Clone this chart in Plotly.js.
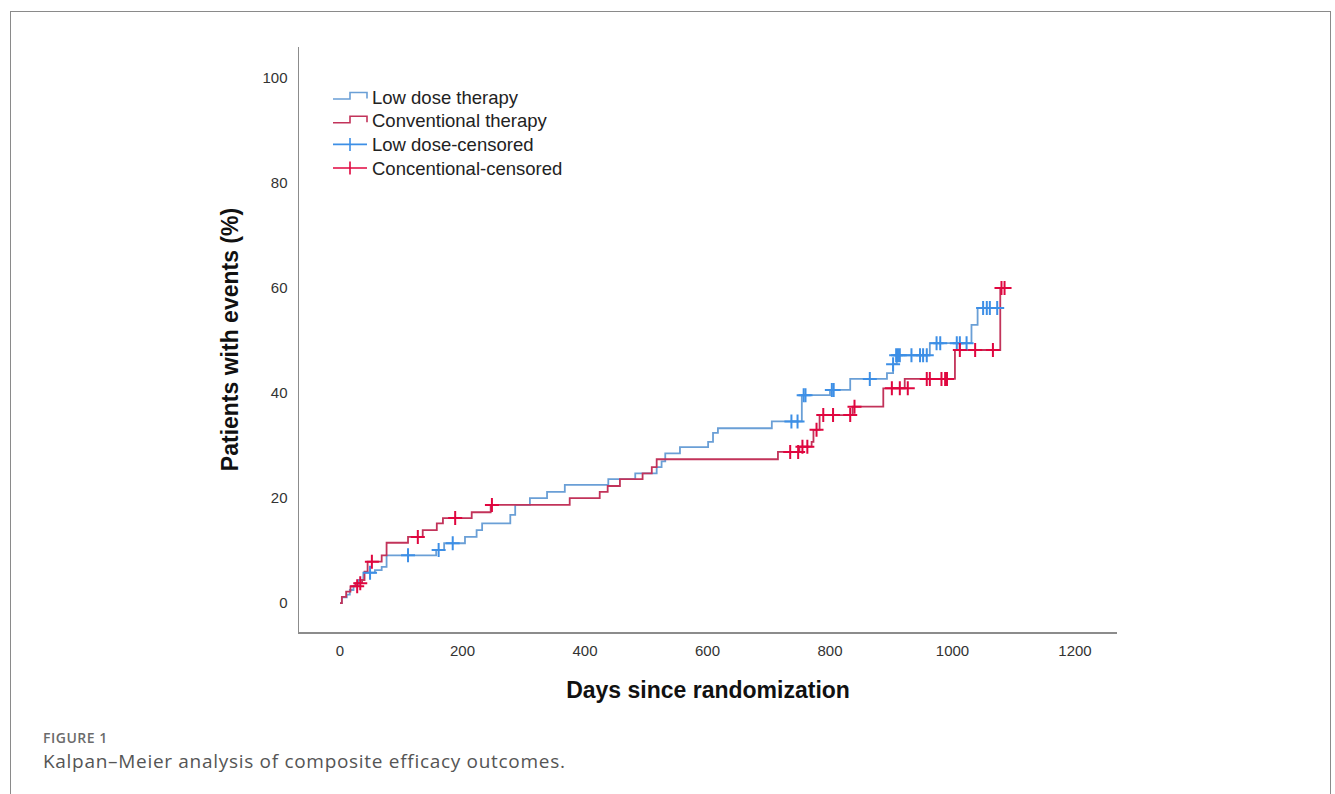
<!DOCTYPE html>
<html>
<head>
<meta charset="utf-8">
<script src="https://cdn.plot.ly/plotly-3.0.1.min.js"></script>
<style>
  html, body { margin: 0; padding: 0; background: #ffffff; }
  #frame { position: absolute; left: 10px; top: 11px; width: 1321px; height: 800px;
           border: 1.5px solid #8a8a8a; border-bottom: none; box-sizing: border-box; }
  #chart { position: absolute; left: 0; top: 0; width: 1335px; height: 794px; }
  .cap1 { position: absolute; left: 43px; top: 729px; font-family: 'Open Sans', sans-serif;
          font-size: 14px; font-weight: 600; color: #6b6b6b; letter-spacing: 0.5px; line-height: 18px; white-space: nowrap; }
  .cap2 { position: absolute; left: 43px; top: 748px; font-family: 'Open Sans', sans-serif;
          font-size: 19px; font-weight: 400; color: #555555; letter-spacing: 0.7px; line-height: 26px; white-space: nowrap; }
</style>
</head>
<body>
<div id="frame"></div>
<div id="chart"></div>
<div class="cap1">FIGURE 1</div>
<div class="cap2">Kalpan–Meier analysis of composite efficacy outcomes.</div>
<script>
// ---- data (days since randomization, % with events) ----
const lowDoseDays = [0, 3, 11, 16, 22, 30, 38, 57, 68, 76, 157, 170, 204, 223, 232, 278, 286, 310, 338, 367,
  438, 482, 517, 525, 531, 555, 601, 609, 617, 705, 754, 800, 833, 893, 903, 909, 963, 1031, 1041, 1078];
const lowDoseValues = [0, 1.1, 1.6, 2.5, 3.3, 4.4, 5.8, 6.3, 6.9, 9.1, 10.1, 11.4, 12.6, 13.9, 15.2, 16.8, 18.7, 20.0, 21.2, 22.5,
  23.6, 24.7, 25.9, 27.0, 28.5, 29.7, 30.7, 32.4, 33.3, 34.6, 39.6, 40.6, 42.7, 43.8, 45.5, 47.2, 49.5, 53.0, 56.2, 56.2];

const convDays = [0, 3, 10, 17, 25, 36, 40, 45, 68, 76, 111, 135, 158, 168, 215, 246, 375, 424, 437, 457,
  494, 509, 517, 715, 750, 770, 773, 783, 837, 887, 922, 1004, 1078, 1088];
const convValues = [0, 1.2, 2.2, 3.2, 3.8, 4.4, 6.0, 7.9, 9.1, 11.5, 12.6, 13.9, 15.2, 16.2, 17.3, 18.7, 20.0, 21.2, 22.3, 23.6,
  24.7, 25.9, 27.4, 28.8, 29.8, 30.7, 33.0, 35.8, 37.4, 40.9, 42.7, 48.2, 60.0, 60.0];

const lowCensorDays = [49, 111, 161, 184, 737, 747, 757, 760, 803, 806, 865, 903, 908, 911, 914, 933, 947, 952, 958,
  974, 980, 1007, 1012, 1023, 1050, 1056, 1061, 1073];
const lowCensorValues = [5.8, 9.1, 10.1, 11.4, 34.6, 34.6, 39.6, 39.6, 40.6, 40.6, 42.7, 45.5, 47.2, 47.2, 47.2, 47.2, 47.2, 47.2, 47.2,
  49.5, 49.5, 49.5, 49.5, 49.5, 56.2, 56.2, 56.2, 56.2];

const convCensorDays = [28, 33, 52, 127, 188, 248, 735, 748, 755, 763, 778, 789, 805, 833, 840, 901, 914, 927,
  958, 963, 982, 988, 991, 1012, 1037, 1066, 1080, 1085];
const convCensorValues = [3.2, 3.8, 7.9, 12.6, 16.2, 18.7, 28.8, 28.8, 29.8, 29.8, 33.0, 35.8, 35.8, 35.8, 37.4, 40.9, 40.9, 40.9,
  42.7, 42.7, 42.7, 42.7, 42.7, 48.2, 48.2, 48.2, 60.0, 60.0];

const xTicks = [0, 200, 400, 600, 800, 1000, 1200];
const yTicks = [0, 20, 40, 60, 80, 100];

const seriesNames = ['Low dose therapy', 'Conventional therapy', 'Low dose-censored', 'Concentional-censored'];
// --------------------------------------------------------------------------------

const blueLine = '#6a9fd6';
const redLine = '#c2335a';
const blueMark = '#3d8fe6';
const redMark = '#e0063f';
const colors = [blueLine, redLine, blueMark, redMark];

const traces = [
  { x: lowDoseDays, y: lowDoseValues, type: 'scatter', mode: 'lines', name: seriesNames[0],
    line: { shape: 'hv', color: blueLine, width: 1.8 } },
  { x: convDays, y: convValues, type: 'scatter', mode: 'lines', name: seriesNames[1],
    line: { shape: 'hv', color: redLine, width: 1.8 } },
  { x: lowCensorDays, y: lowCensorValues, type: 'scatter', mode: 'markers', name: seriesNames[2],
    marker: { symbol: 'cross-thin-open', size: 10, color: blueMark, line: { color: blueMark, width: 2 } } },
  { x: convCensorDays, y: convCensorValues, type: 'scatter', mode: 'markers', name: seriesNames[3],
    marker: { symbol: 'cross-thin-open', size: 10, color: redMark, line: { color: redMark, width: 2 } } }
];

// plot area in pixels (for placing the legend drawn in paper coordinates)
const M = { l: 299, r: 218, t: 47, b: 162 };
const W = 1335, H = 794;
const PW = W - M.l - M.r, PH = H - M.t - M.b;
const px = v => (v - M.l) / PW;
const py = v => (H - M.b - v) / PH;

// custom legend (step icons like the original)
const legendRows = [97, 120.7, 144.4, 168];
const legendShapes = [];
const legendAnn = [];
legendRows.forEach((c, i) => {
  let path;
  if (i < 2) {
    path = `M ${px(333)},${py(c + 2)} L ${px(350)},${py(c + 2)} L ${px(350)},${py(c - 4.5)} L ${px(367)},${py(c - 4.5)} L ${px(367)},${py(c + 1.5)}`;
    legendShapes.push({ type: 'path', xref: 'paper', yref: 'paper', path: path,
      line: { color: colors[i], width: 1.6 } });
  } else {
    legendShapes.push({ type: 'line', xref: 'paper', yref: 'paper',
      x0: px(333), x1: px(367), y0: py(c), y1: py(c), line: { color: colors[i], width: 1.6 } });
    legendShapes.push({ type: 'line', xref: 'paper', yref: 'paper',
      x0: px(350), x1: px(350), y0: py(c - 6.5), y1: py(c + 6.5), line: { color: colors[i], width: 1.6 } });
  }
  legendAnn.push({ xref: 'paper', yref: 'paper', x: px(370), y: py(c), xanchor: 'left', yanchor: 'middle',
    showarrow: false, text: seriesNames[i],
    font: { family: 'Liberation Sans, Arial, sans-serif', size: 18.5, color: '#222222' } });
});

const axisFont = { family: 'Liberation Sans, Arial, sans-serif', size: 15, color: '#333333' };
const titleFont = { family: 'Liberation Sans, Arial, sans-serif', size: 23, color: '#111111', weight: 'bold' };

const layout = {
  width: W, height: H,
  paper_bgcolor: 'rgba(0,0,0,0)', plot_bgcolor: 'rgba(0,0,0,0)',
  margin: { l: M.l, r: M.r, t: M.t, b: M.b, pad: 0 },
  showlegend: false,
  xaxis: {
    range: [-67, 1268.6], showgrid: false, zeroline: false,
    showline: true, linecolor: '#8c8c8c', linewidth: 1.5,
    ticks: '', tickmode: 'array', tickvals: xTicks, ticktext: xTicks.map(String),
    tickfont: axisFont, ticklabelstandoff: 4,
    title: { text: 'Days since randomization', font: titleFont, standoff: 24 }
  },
  yaxis: {
    range: [-5.5, 105.9], showgrid: false, zeroline: false,
    showline: true, linecolor: '#8c8c8c', linewidth: 1.5,
    ticks: '', tickmode: 'array', tickvals: yTicks, ticktext: yTicks.map(String),
    tickfont: axisFont, ticklabelstandoff: 7,
    title: { text: 'Patients with events (%)', font: titleFont, standoff: 17 }
  },
  shapes: legendShapes,
  annotations: legendAnn
};

Plotly.newPlot('chart', traces, layout, { displayModeBar: false, staticPlot: true });
</script>
</body>
</html>
